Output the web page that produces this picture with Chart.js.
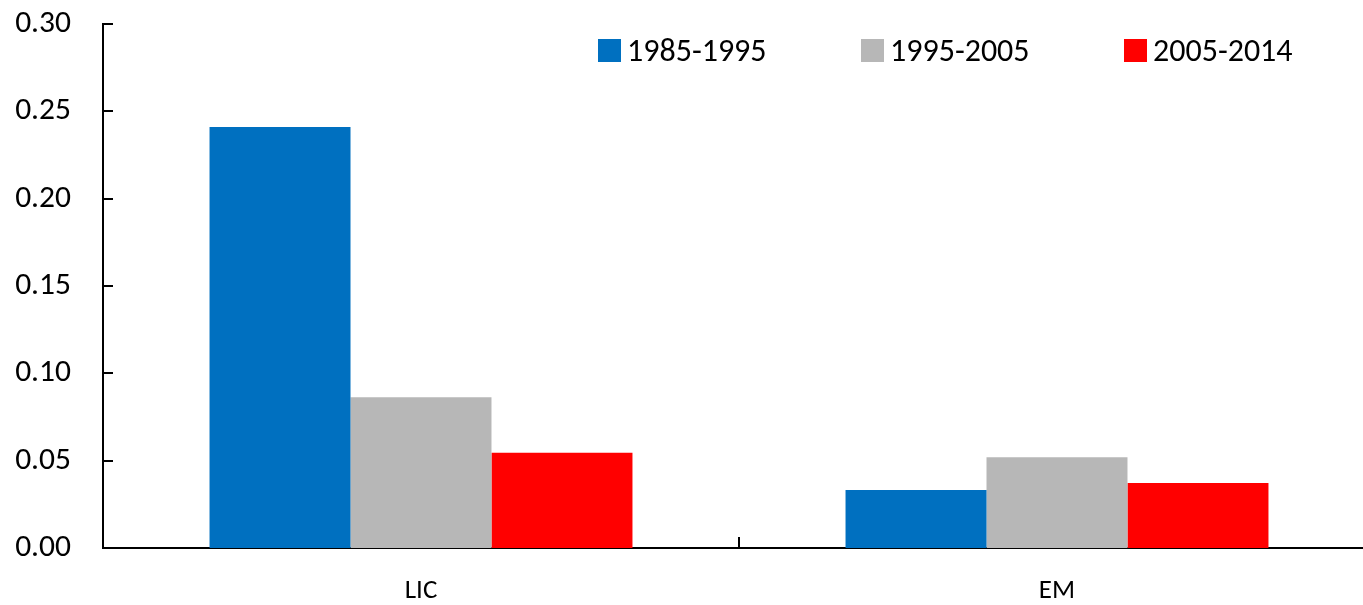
<!DOCTYPE html>
<html lang="en">

<head>
    <meta charset="UTF-8">
    <title>LIC vs EM</title>
    <script src="https://cdn.jsdelivr.net/npm/chart.js"></script>
    <style>
        body { margin: 0; overflow: hidden; background: #fff; }
    </style>
</head>

<body>
    <canvas id="barChart" width="1380" height="605"></canvas>

    <script>
        // data
        const categories = ['LIC', 'EM'];
        const periods = ['1985-1995', '1995-2005', '2005-2014'];
        const v1985 = [0.241, 0.0332];
        const v1995 = [0.0863, 0.0520];
        const v2005 = [0.0545, 0.0372];
        const colors = ['#0070C0', '#B7B7B7', '#FF0000'];
        const yMax = 0.30;
        const yStep = 0.05;

        const tickFont = { family: 'Carlito, Lato, sans-serif', size: 31.5 };

        // inward tick marks on both axes
        const innerTicks = {
            id: 'innerTicks',
            afterDraw(chart) {
                const c = chart.ctx, y = chart.scales.y, x = chart.scales.x;
                const a = chart.chartArea;
                c.save();
                c.strokeStyle = '#000';
                c.lineWidth = 2;
                c.beginPath();
                y.ticks.forEach(t => {
                    const py = Math.round(y.getPixelForValue(t.value));
                    c.moveTo(a.left, py);
                    c.lineTo(a.left + 10, py);
                });
                const mid = (x.getPixelForValue(0) + x.getPixelForValue(1)) / 2;
                c.moveTo(Math.round(mid), a.bottom);
                c.lineTo(Math.round(mid), a.bottom - 11);
                c.stroke();
                c.restore();
            }
        };

        // legend drawn in one row at the top right
        const topLegend = {
            id: 'topLegend',
            afterDraw(chart) {
                const c = chart.ctx;
                c.save();
                c.font = '32px Carlito, Lato, sans-serif';
                c.textBaseline = 'alphabetic';
                chart.data.datasets.forEach((ds, i) => {
                    const x0 = 598 + i * 263;
                    c.fillStyle = ds.backgroundColor;
                    c.fillRect(x0, 39, 23, 23);
                    c.fillStyle = '#000';
                    c.fillText(ds.label, x0 + 29, 61);
                });
                c.restore();
            }
        };

        const ctx = document.getElementById('barChart').getContext('2d');
        const chart = new Chart(ctx, {
            type: 'bar',
            data: {
                labels: categories,
                datasets: [
                    { label: periods[0], data: v1985, backgroundColor: colors[0] },
                    { label: periods[1], data: v1995, backgroundColor: colors[1] },
                    { label: periods[2], data: v2005, backgroundColor: colors[2] }
                ]
            },
            options: {
                responsive: false,
                animation: false,
                devicePixelRatio: 1,
                categoryPercentage: 0.665,
                barPercentage: 1.0,
                layout: { padding: { top: 24, right: 5, left: 0, bottom: 0 } },
                plugins: {
                    legend: { display: false },
                    tooltip: { enabled: false }
                },
                scales: {
                    x: {
                        grid: { display: false, drawTicks: false },
                        border: { display: true, color: '#000', width: 2 },
                        ticks: { color: '#000', font: { family: 'Carlito, Lato, sans-serif', size: 27 }, padding: 27 },
                        afterFit: s => { s.height = 57; s.paddingLeft = 0; s.paddingRight = 0; }
                    },
                    y: {
                        min: 0,
                        max: yMax,
                        grid: { display: false, drawTicks: false },
                        border: { display: true, color: '#000', width: 2 },
                        ticks: {
                            stepSize: yStep,
                            color: '#000',
                            font: tickFont,
                            padding: 32,
                            callback: v => v.toFixed(2)
                        },
                        afterFit: s => { s.width = 103; s.paddingTop = 0; s.paddingBottom = 0; }
                    }
                }
            },
            plugins: [innerTicks, topLegend]
        });
    </script>
</body>

</html>
